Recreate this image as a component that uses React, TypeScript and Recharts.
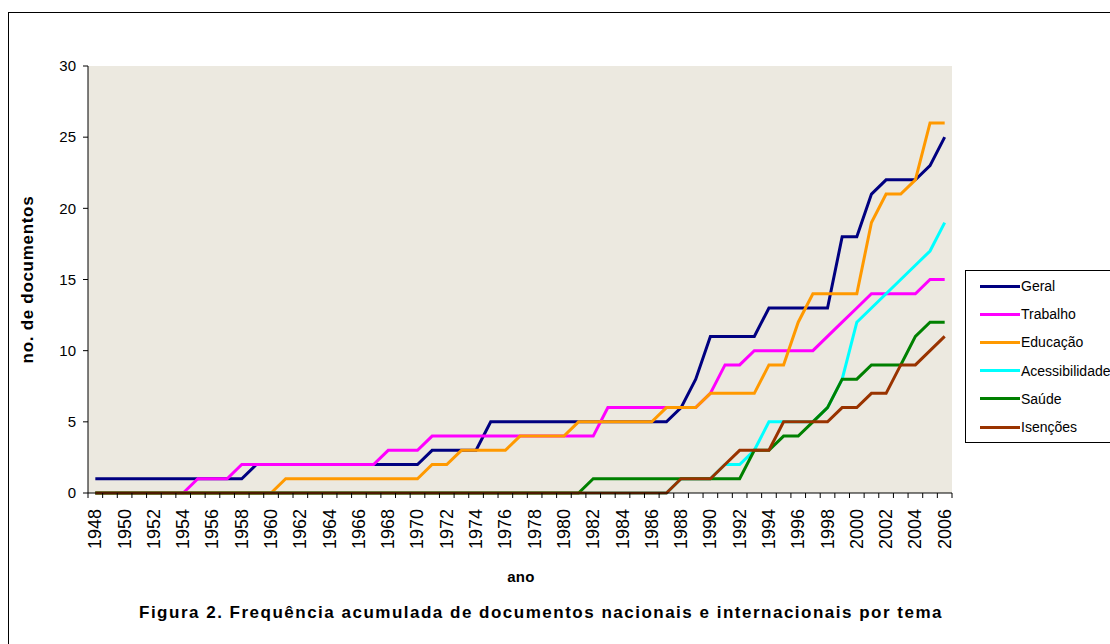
import { LineChart, Line, XAxis, YAxis, Legend, Label, CartesianGrid } from "recharts";

const FONT = "Arial, 'Liberation Sans', sans-serif";

const years = [
  "1948", "1949", "1950", "1951", "1952", "1953", "1954", "1955", "1956", "1957",
  "1958", "1959", "1960", "1961", "1962", "1963", "1964", "1965", "1966", "1967",
  "1968", "1969", "1970", "1971", "1972", "1973", "1974", "1975", "1976", "1977",
  "1978", "1979", "1980", "1981", "1982", "1983", "1984", "1985", "1986", "1987",
  "1988", "1989", "1990", "1991", "1992", "1993", "1994", "1995", "1996", "1997",
  "1998", "1999", "2000", "2001", "2002", "2003", "2004", "2005", "2006",
];

const geral = [
  1, 1, 1, 1, 1, 1, 1, 1, 1, 1,
  1, 2, 2, 2, 2, 2, 2, 2, 2, 2,
  2, 2, 2, 3, 3, 3, 3, 5, 5, 5,
  5, 5, 5, 5, 5, 5, 5, 5, 5, 5,
  6, 8, 11, 11, 11, 11, 13, 13, 13, 13,
  13, 18, 18, 21, 22, 22, 22, 23, 25,
];
const trabalho = [
  0, 0, 0, 0, 0, 0, 0, 1, 1, 1,
  2, 2, 2, 2, 2, 2, 2, 2, 2, 2,
  3, 3, 3, 4, 4, 4, 4, 4, 4, 4,
  4, 4, 4, 4, 4, 6, 6, 6, 6, 6,
  6, 6, 7, 9, 9, 10, 10, 10, 10, 10,
  11, 12, 13, 14, 14, 14, 14, 15, 15,
];
const educacao = [
  0, 0, 0, 0, 0, 0, 0, 0, 0, 0,
  0, 0, 0, 1, 1, 1, 1, 1, 1, 1,
  1, 1, 1, 2, 2, 3, 3, 3, 3, 4,
  4, 4, 4, 5, 5, 5, 5, 5, 5, 6,
  6, 6, 7, 7, 7, 7, 9, 9, 12, 14,
  14, 14, 14, 19, 21, 21, 22, 26, 26,
];
const acessibilidade = [
  0, 0, 0, 0, 0, 0, 0, 0, 0, 0,
  0, 0, 0, 0, 0, 0, 0, 0, 0, 0,
  0, 0, 0, 0, 0, 0, 0, 0, 0, 0,
  0, 0, 0, 0, 0, 0, 0, 0, 0, 0,
  1, 1, 1, 2, 2, 3, 5, 5, 5, 5,
  6, 8, 12, 13, 14, 15, 16, 17, 19,
];
const saude = [
  0, 0, 0, 0, 0, 0, 0, 0, 0, 0,
  0, 0, 0, 0, 0, 0, 0, 0, 0, 0,
  0, 0, 0, 0, 0, 0, 0, 0, 0, 0,
  0, 0, 0, 0, 1, 1, 1, 1, 1, 1,
  1, 1, 1, 1, 1, 3, 3, 4, 4, 5,
  6, 8, 8, 9, 9, 9, 11, 12, 12,
];
const isencoes = [
  0, 0, 0, 0, 0, 0, 0, 0, 0, 0,
  0, 0, 0, 0, 0, 0, 0, 0, 0, 0,
  0, 0, 0, 0, 0, 0, 0, 0, 0, 0,
  0, 0, 0, 0, 0, 0, 0, 0, 0, 0,
  1, 1, 1, 2, 3, 3, 3, 5, 5, 5,
  5, 6, 6, 7, 7, 9, 9, 10, 11,
];

const yTicks = [0, 5, 10, 15, 20, 25, 30];

const series = [
  { name: "Geral", color: "#000080" },
  { name: "Trabalho", color: "#FF00FF" },
  { name: "Educação", color: "#FF9900" },
  { name: "Acessibilidade", color: "#00FFFF" },
  { name: "Saúde", color: "#008000" },
  { name: "Isenções", color: "#993300" },
];

const data = years.map((ano, i) => ({
  ano,
  Geral: geral[i],
  Trabalho: trabalho[i],
  "Educação": educacao[i],
  Acessibilidade: acessibilidade[i],
  "Saúde": saude[i],
  "Isenções": isencoes[i],
}));

const PLOT_W = 864;

function YearTick(props: any) {
  const { x, y, payload, index } = props;
  const w = typeof props.width === "number" && props.width > 0 ? props.width : PLOT_W;
  const half = w / (years.length * 2);
  const ty = y + 16;
  return (
    <g>
      {index === 0 && (
        <line x1={x - half} y1={y} x2={x - half} y2={y + 5} stroke="#000" />
      )}
      <line x1={x + half} y1={y} x2={x + half} y2={y + 5} stroke="#000" />
      {index % 2 === 0 && (
        <text
          x={x}
          y={ty}
          transform={`rotate(-90 ${x} ${ty})`}
          textAnchor="end"
          dominantBaseline="central"
          fontSize={18}
          fontFamily={FONT}
          fill="#000"
        >
          {payload.value}
        </text>
      )}
    </g>
  );
}

function title(
  text: string,
  dx: number,
  dy: number,
  size: number,
  spacing: number,
  rotate = false
) {
  return (props: any) => {
    const vb = props.viewBox || {};
    const cx = rotate ? vb.x + dx : vb.x + vb.width / 2 + dx;
    const cy = rotate ? vb.y + vb.height / 2 + dy : vb.y + dy;
    return (
      <text
        x={cx}
        y={cy}
        transform={rotate ? `rotate(-90 ${cx} ${cy})` : undefined}
        textAnchor="middle"
        dominantBaseline="central"
        fontWeight="bold"
        fontSize={size}
        letterSpacing={spacing}
        fontFamily={FONT}
        fill="#000"
      >
        {text}
      </text>
    );
  };
}

function LegendBox() {
  return (
    <div
      style={{
        border: "1px solid #000",
        background: "#fff",
        width: 170,
        height: 173,
        boxSizing: "border-box",
        paddingTop: 1,
        fontFamily: FONT,
        fontSize: 14,
        color: "#000",
      }}
    >
      {series.map((s) => (
        <div
          key={s.name}
          style={{ height: 28.2, display: "flex", alignItems: "center", whiteSpace: "nowrap" }}
        >
          <span
            style={{ marginLeft: 14, width: 40, height: 3, background: s.color, flex: "none" }}
          />
          <span style={{ marginLeft: 1 }}>{s.name}</span>
        </div>
      ))}
    </div>
  );
}

export default function App() {
  return (
    <div
      style={{
        position: "absolute",
        width: 1102,
        height: 636,
        overflow: "hidden",
        background: "#fff",
      }}
    >
      <div
        style={{
          position: "absolute",
          left: 0,
          top: 4,
          width: 1200,
          height: 700,
          border: "1px solid #000",
          boxSizing: "border-box",
        }}
      />
      <LineChart
        width={1102}
        height={636}
        data={data}
        margin={{ top: 58, right: 158, bottom: 16, left: 0 }}
        style={{ position: "absolute", left: 0, top: 0 }}
      >
        <CartesianGrid fill="#ECE9E0" stroke="none" horizontal={false} vertical={false} />
        <XAxis
          dataKey="ano"
          interval={0}
          height={135}
          padding={{ left: PLOT_W / years.length / 2, right: PLOT_W / years.length / 2 }}
          tickSize={0}
          tickMargin={0}
          tickLine={false}
          axisLine={{ stroke: "#000" }}
          tick={<YearTick />}
        >
          <Label content={title("ano", 1, 83, 15, 0.3)} />
          <Label
            content={title(
              "Figura 2. Frequência acumulada de documentos nacionais e internacionais por tema",
              21,
              119,
              17,
              1.5
            )}
          />
        </XAxis>
        <XAxis
          xAxisId="top"
          dataKey="ano"
          orientation="top"
          height={0}
          tick={false}
          tickLine={false}
          axisLine={{ stroke: "#808080" }}
        />
        <YAxis
          domain={[0, 30]}
          ticks={yTicks}
          width={80}
          tickSize={5}
          tickMargin={7}
          axisLine={{ stroke: "#000" }}
          tickLine={{ stroke: "#000" }}
          tick={{ fontSize: 15, fontFamily: FONT, fill: "#000" }}
        >
          <Label content={title("no. de documentos", 19, 0, 17, 0.7, true)} />
        </YAxis>
        <YAxis
          yAxisId="right"
          orientation="right"
          width={0}
          tick={false}
          tickLine={false}
          axisLine={{ stroke: "#808080" }}
        />
        <Legend
          layout="vertical"
          align="center"
          verticalAlign="middle"
          width={170}
          height={173}
          wrapperStyle={{ left: 957, top: 262, width: 170, height: 173 }}
          content={<LegendBox />}
        />
        {series.map((s) => (
          <Line
            key={s.name}
            type="linear"
            dataKey={s.name}
            stroke={s.color}
            strokeWidth={3}
            dot={false}
            activeDot={false}
            isAnimationActive={false}
          />
        ))}
      </LineChart>
    </div>
  );
}
